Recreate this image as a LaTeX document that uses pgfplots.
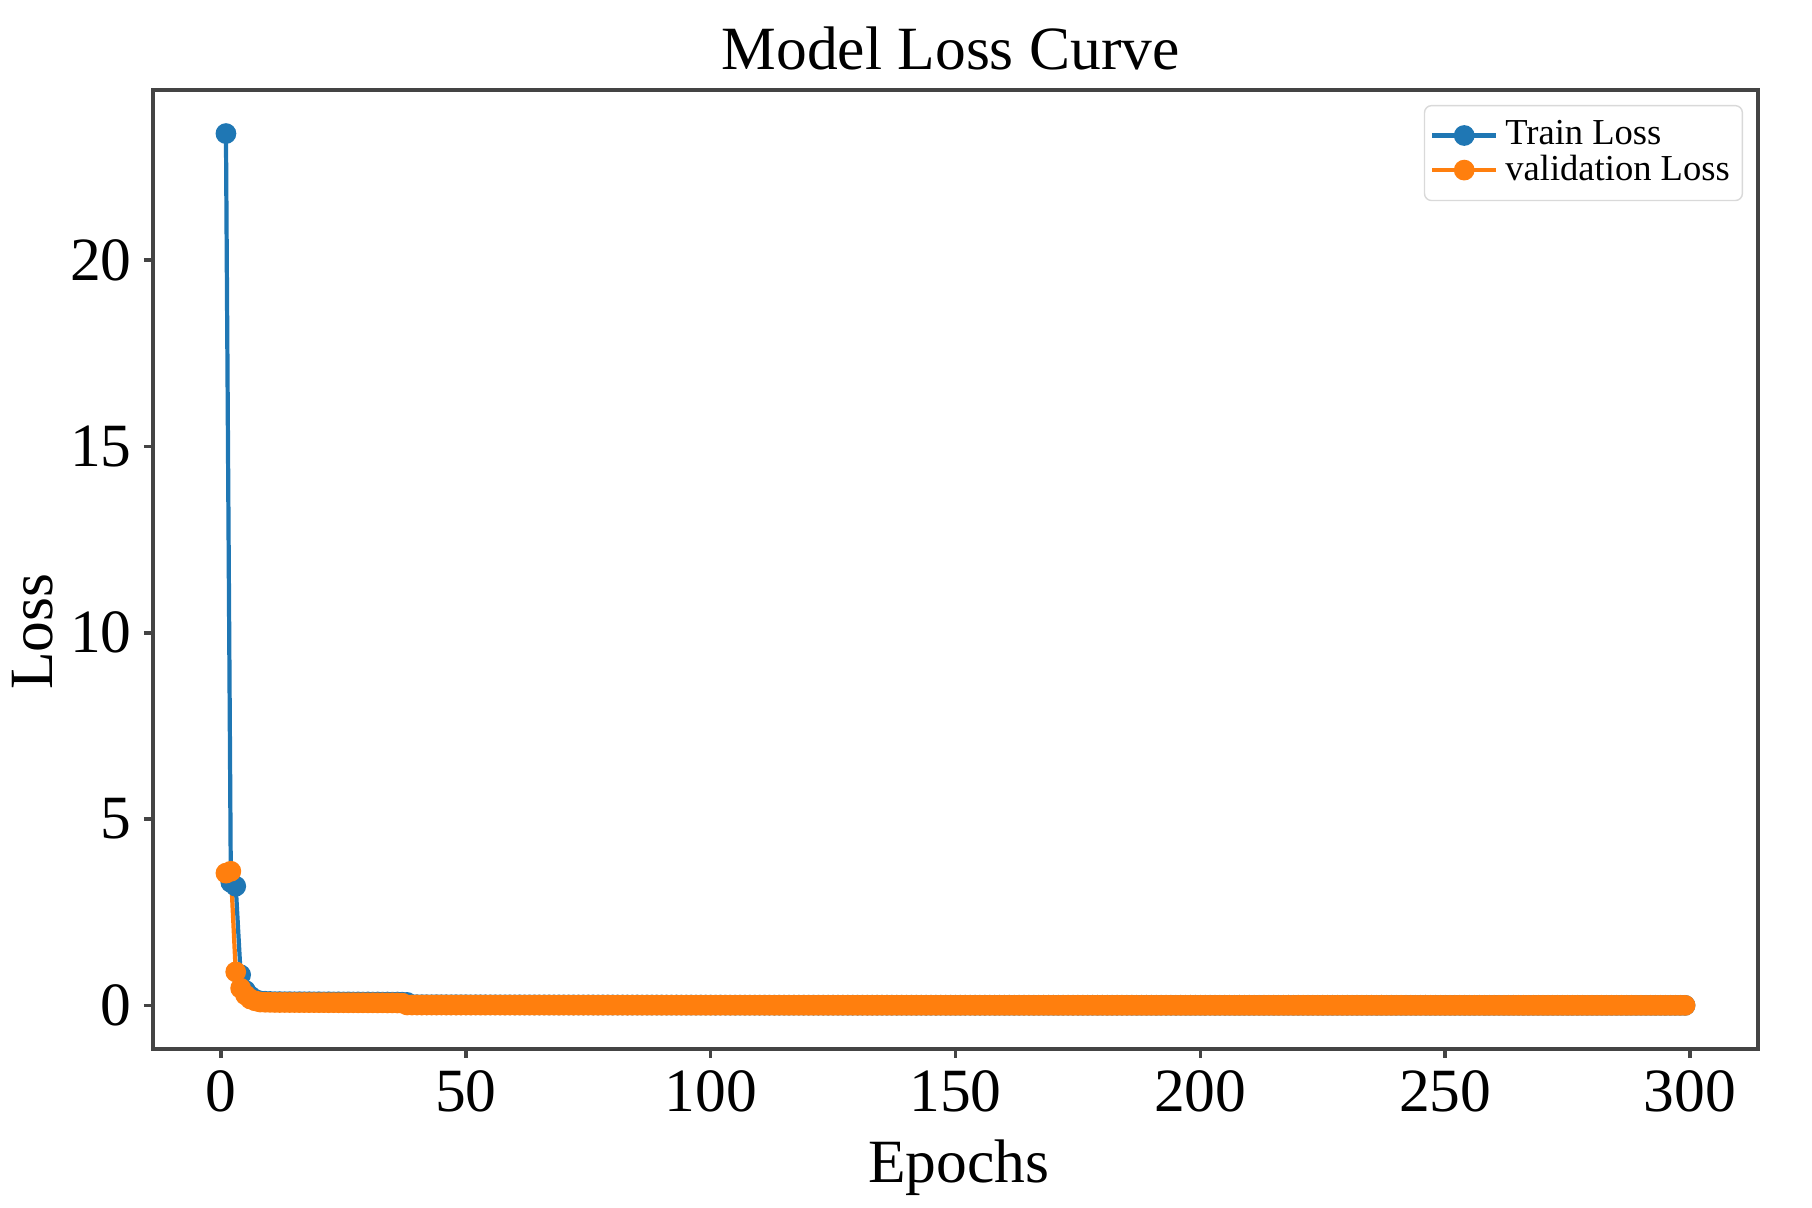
\documentclass[border=0pt]{standalone}
\usepackage{pgfplots}
\usepackage{pgfplotstable}
\pgfplotsset{compat=1.18}
\usepackage{fontspec}
\setmainfont{Liberation Serif}

\definecolor{mplblue}{HTML}{1F77B4}
\definecolor{mplorange}{HTML}{FF7F0E}
\definecolor{framegray}{HTML}{444444}

% epoch, train loss, validation loss
\pgfplotstableread[row sep=\\]{
ep tr va\\
1 23.40 3.55\\ 2 3.30 3.60\\ 3 3.20 0.90\\ 4 0.82 0.46\\ 5 0.40 0.28\\ 6 0.25 0.17\\ 7 0.16 0.12\\ 8 0.12 0.09\\ 9 0.11 0.085\\
10 0.105 0.082\\ 11 0.100 0.080\\ 12 0.102 0.078\\ 13 0.098 0.079\\ 14 0.100 0.077\\ 15 0.097 0.078\\ 16 0.099 0.076\\ 17 0.096 0.077\\ 18 0.098 0.075\\ 19 0.095 0.076\\
20 0.097 0.074\\ 21 0.094 0.075\\ 22 0.096 0.073\\ 23 0.093 0.074\\ 24 0.095 0.072\\ 25 0.092 0.073\\ 26 0.094 0.071\\ 27 0.091 0.072\\ 28 0.093 0.070\\ 29 0.090 0.071\\
30 0.092 0.069\\ 31 0.089 0.070\\ 32 0.091 0.068\\ 33 0.088 0.069\\ 34 0.090 0.067\\ 35 0.087 0.068\\ 36 0.089 0.066\\ 37 0.086 0.060\\ 38 0.080 0.012\\ 39 0.020 0.011\\
40 .019 .011\\ 41 .018 .010\\ 42 .018 .011\\ 43 .017 .010\\ 44 .018 .010\\ 45 .017 .011\\ 46 .017 .010\\ 47 .016 .010\\ 48 .017 .009\\ 49 .016 .010\\
50 .016 .010\\ 51 .015 .009\\ 52 .016 .010\\ 53 .015 .009\\ 54 .015 .009\\ 55 .014 .010\\ 56 .015 .009\\ 57 .014 .009\\ 58 .014 .008\\ 59 .014 .009\\
60 .013 .009\\ 61 .014 .008\\ 62 .013 .009\\ 63 .013 .008\\ 64 .013 .008\\ 65 .012 .009\\ 66 .013 .008\\ 67 .012 .008\\ 68 .012 .008\\ 69 .012 .007\\
70 .012 .008\\ 71 .011 .008\\ 72 .012 .007\\ 73 .011 .008\\ 74 .011 .007\\ 75 .011 .008\\ 76 .011 .007\\ 77 .010 .007\\ 78 .011 .007\\ 79 .010 .008\\
80 .010 .007\\ 81 .010 .007\\ 82 .010 .007\\ 83 .010 .006\\ 84 .009 .007\\ 85 .010 .007\\ 86 .009 .006\\ 87 .009 .007\\ 88 .009 .006\\ 89 .009 .007\\
90 .009 .006\\ 91 .009 .006\\ 92 .008 .007\\ 93 .009 .006\\ 94 .008 .006\\ 95 .008 .006\\ 96 .008 .006\\ 97 .008 .005\\ 98 .008 .006\\ 99 .008 .006\\
100 .008 .005\\ 101 .007 .006\\ 102 .008 .005\\ 103 .007 .006\\ 104 .007 .005\\ 105 .007 .005\\ 106 .007 .006\\ 107 .007 .005\\ 108 .007 .005\\ 109 .007 .005\\
110 .006 .005\\ 111 .007 .005\\ 112 .006 .005\\ 113 .006 .004\\ 114 .006 .005\\ 115 .006 .005\\ 116 .006 .004\\ 117 .006 .005\\ 118 .006 .004\\ 119 .006 .005\\
120 .006 .004\\ 121 .006 .004\\ 122 .005 .005\\ 123 .006 .004\\ 124 .005 .004\\ 125 .006 .004\\ 126 .005 .004\\ 127 .005 .005\\ 128 .005 .004\\ 129 .005 .004\\
130 .005 .004\\ 131 .005 .004\\ 132 .005 .004\\ 133 .005 .003\\ 134 .005 .004\\ 135 .005 .004\\ 136 .005 .004\\ 137 .005 .003\\ 138 .004 .004\\ 139 .005 .004\\
140 .004 .004\\ 141 .005 .003\\ 142 .004 .004\\ 143 .004 .004\\ 144 .004 .003\\ 145 .004 .004\\ 146 .004 .003\\ 147 .004 .004\\ 148 .004 .003\\ 149 .004 .003\\
150 .004 .003\\ 151 .004 .003\\ 152 .004 .004\\ 153 .004 .003\\ 154 .004 .003\\ 155 .003 .003\\ 156 .004 .003\\ 157 .004 .003\\ 158 .003 .003\\ 159 .004 .003\\
160 .003 .003\\ 161 .004 .003\\ 162 .003 .003\\ 163 .003 .003\\ 164 .004 .003\\ 165 .003 .003\\ 166 .003 .002\\ 167 .003 .003\\ 168 .003 .003\\ 169 .003 .003\\
170 .003 .003\\ 171 .003 .002\\ 172 .003 .003\\ 173 .003 .003\\ 174 .003 .002\\ 175 .003 .003\\ 176 .003 .003\\ 177 .003 .002\\ 178 .003 .003\\ 179 .003 .002\\
180 .003 .003\\ 181 .003 .002\\ 182 .003 .002\\ 183 .003 .003\\ 184 .003 .002\\ 185 .003 .002\\ 186 .003 .003\\ 187 .002 .002\\ 188 .003 .002\\ 189 .003 .002\\
190 .003 .002\\ 191 .002 .002\\ 192 .003 .002\\ 193 .002 .003\\ 194 .003 .002\\ 195 .002 .002\\ 196 .003 .002\\ 197 .002 .002\\ 198 .002 .002\\ 199 .003 .002\\
200 .002 .002\\ 201 .002 .002\\ 202 .003 .002\\ 203 .002 .002\\ 204 .002 .002\\ 205 .002 .002\\ 206 .002 .002\\ 207 .002 .001\\ 208 .002 .002\\ 209 .002 .002\\
210 .002 .002\\ 211 .002 .002\\ 212 .002 .001\\ 213 .002 .002\\ 214 .002 .002\\ 215 .002 .002\\ 216 .002 .001\\ 217 .002 .002\\ 218 .002 .002\\ 219 .002 .001\\
220 .002 .002\\ 221 .002 .002\\ 222 .002 .001\\ 223 .002 .002\\ 224 .002 .001\\ 225 .002 .002\\ 226 .002 .002\\ 227 .002 .001\\ 228 .002 .002\\ 229 .002 .001\\
230 .002 .002\\ 231 .002 .001\\ 232 .002 .002\\ 233 .002 .001\\ 234 .002 .001\\ 235 .002 .002\\ 236 .001 .001\\ 237 .002 .002\\ 238 .002 .001\\ 239 .002 .001\\
240 .002 .001\\ 241 .001 .002\\ 242 .002 .001\\ 243 .002 .001\\ 244 .001 .001\\ 245 .002 .001\\ 246 .002 .002\\ 247 .001 .001\\ 248 .002 .001\\ 249 .001 .001\\
250 .002 .001\\ 251 .001 .001\\ 252 .002 .001\\ 253 .001 .002\\ 254 .002 .001\\ 255 .001 .001\\ 256 .001 .001\\ 257 .002 .001\\ 258 .001 .001\\ 259 .001 .001\\
260 .002 .001\\ 261 .001 .001\\ 262 .001 .001\\ 263 .001 .001\\ 264 .002 .001\\ 265 .001 .001\\ 266 .001 .001\\ 267 .001 .001\\ 268 .001 .001\\ 269 .001 .001\\
270 .001 .001\\ 271 .001 .001\\ 272 .001 .001\\ 273 .001 .001\\ 274 .001 .001\\ 275 .001 .001\\ 276 .001 .001\\ 277 .001 .001\\ 278 .001 .001\\ 279 .001 .001\\
280 .001 .001\\ 281 .001 .001\\ 282 .001 .001\\ 283 .001 .001\\ 284 .001 .001\\ 285 .001 .001\\ 286 .001 .001\\ 287 .001 .001\\ 288 .001 .001\\ 289 .001 .001\\
290 .001 .001\\ 291 .001 .001\\ 292 .001 .001\\ 293 .001 .001\\ 294 .001 .001\\ 295 .001 .001\\ 296 .001 .001\\ 297 .001 .001\\ 298 .001 .001\\ 299 .001 .001\\
}\losstable

\begin{document}
\begin{tikzpicture}
\begin{axis}[
  name=ax,
  scale only axis,
  width=16.05cm, height=9.59cm,
  xmin=-13.9, xmax=313.9,
  ymin=-1.17, ymax=24.57,
  xtick={0,50,100,150,200,250,300},
  ytick={0,5,10,15,20},
  tick align=outside,
  major tick length=0.09cm,
  xtick pos=bottom, ytick pos=left,
  minor tick num=0,
  axis line style={framegray, line width=0.4mm},
  every tick/.style={framegray, line width=0.35mm},
  /pgf/number format/assume math mode=true,
  ticklabel style={font=\fontsize{17.5}{21}\selectfont},
  every axis title shift=0pt,
  title={Model Loss Curve},
  title style={font=\fontsize{17.5}{21}\selectfont, at={(rel axis cs:0.497,1.0209)}, anchor=base},
  xlabel={Epochs},
  xlabel style={font=\fontsize{17.5}{21}\selectfont, at={(rel axis cs:0.502,-0.1397)}, anchor=base},
  ylabel={Loss},
  ylabel style={font=\fontsize{17.5}{21}\selectfont, at={(rel axis cs:-0.0629,0.435)}, anchor=base},
  legend style={font=\fontsize{10.4}{11}\selectfont, at={(rel axis cs:0.9907,0.9844)}, anchor=north east,
    draw=black!15, rounded corners=2pt, fill=white, inner xsep=1.6pt, inner ysep=2.3pt,
    row sep=-2.7pt},
  legend image code/.code={\draw[mark repeat=2, mark phase=2, #1] plot coordinates {(0cm,0cm) (0.32cm,0cm) (0.64cm,0cm)};},
  legend cell align=left,
]
\addplot[mplblue, line width=1.2pt, mark=*, mark size=2.7pt, mark options={solid, fill=mplblue, draw=mplblue, line width=0.5pt}]
  table[x=ep, y=tr] {\losstable};
\addplot[mplorange, line width=1.2pt, mark=*, mark size=2.7pt, mark options={solid, fill=mplorange, draw=mplorange, line width=0.5pt}]
  table[x=ep, y=va] {\losstable};
\legend{Train Loss, validation Loss}
\end{axis}
\path (ax.south west) ++(-1.53cm,-1.56cm) rectangle ++(18.12cm,12.05cm);
\end{tikzpicture}
\end{document}
